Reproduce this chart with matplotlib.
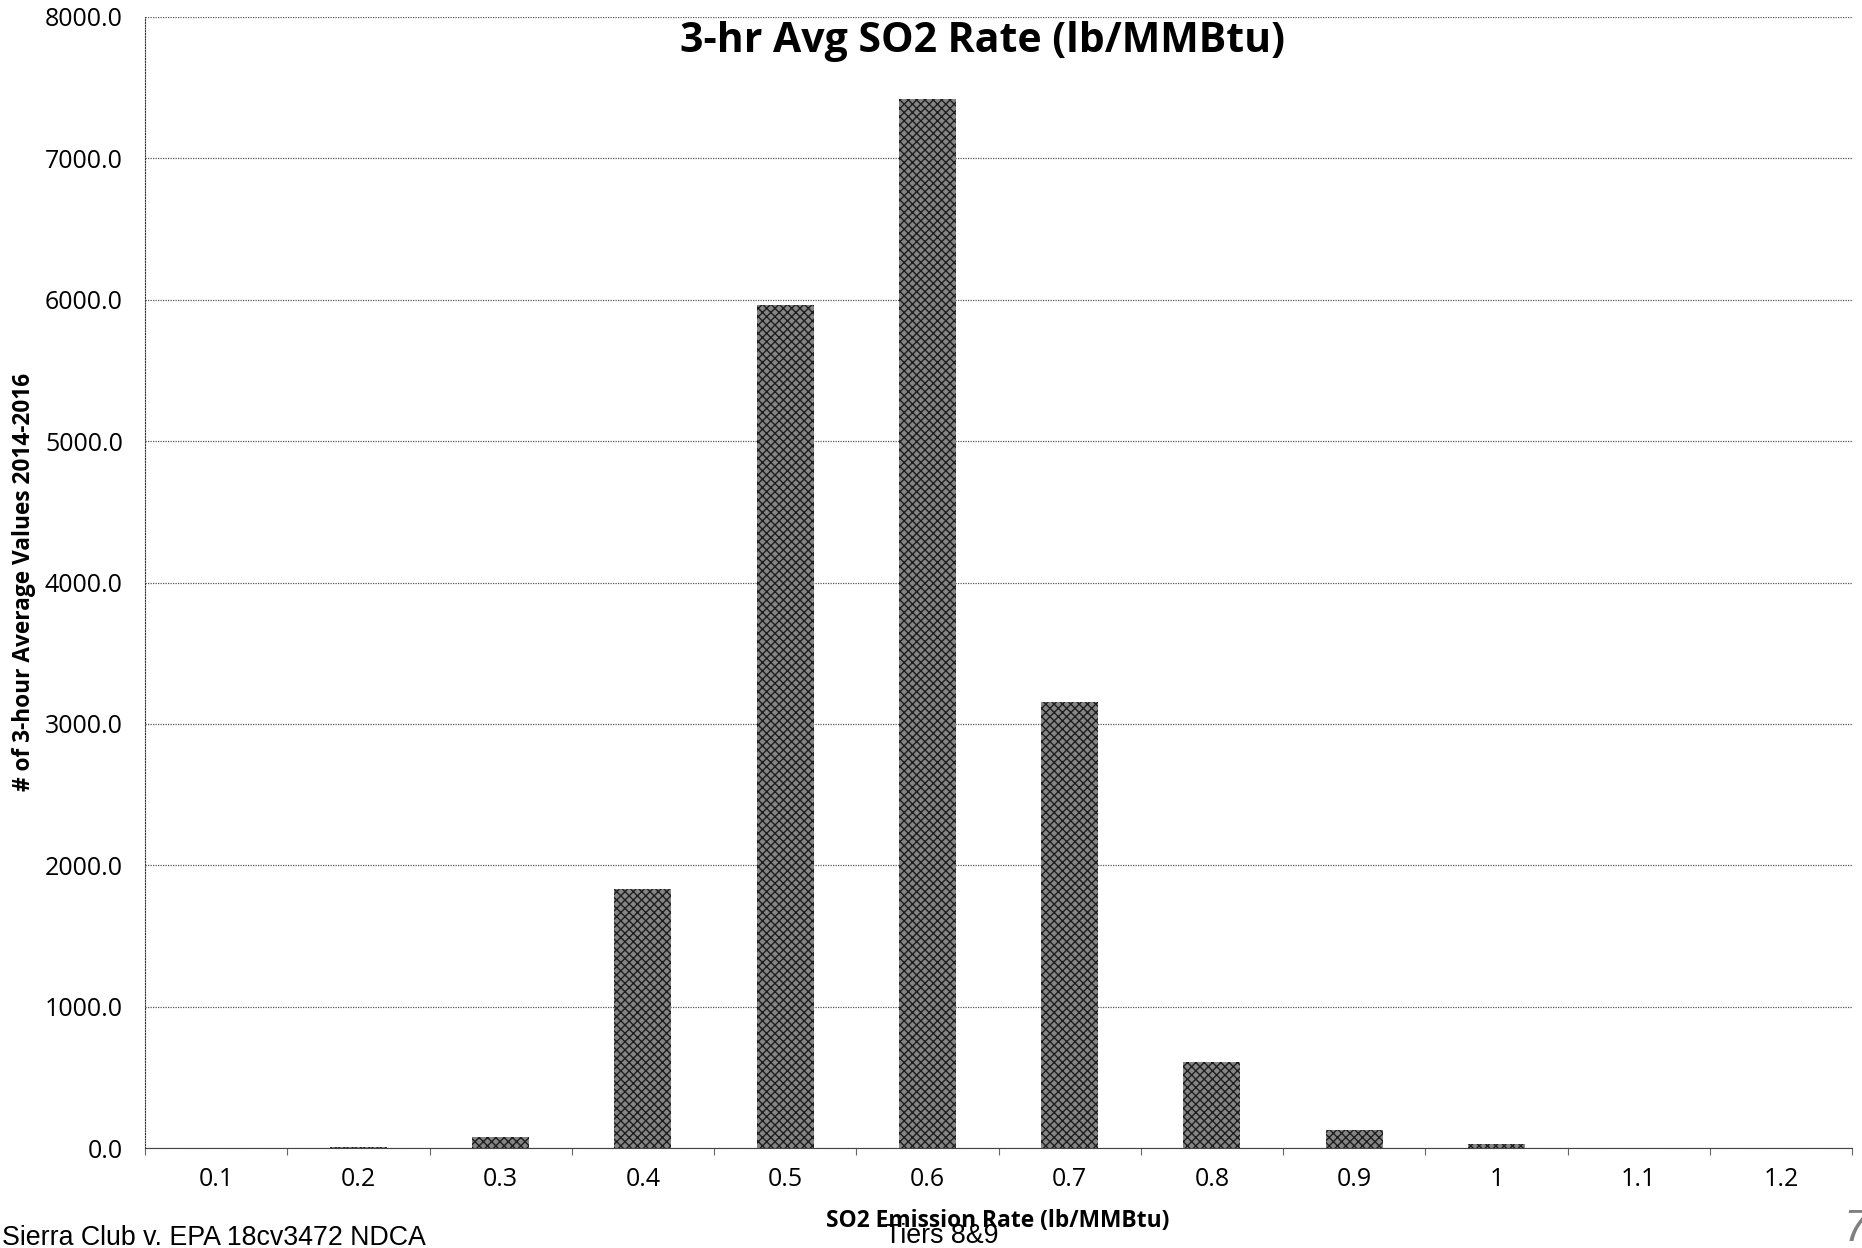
import numpy as np
import matplotlib.pyplot as plt

# ── Data ─────────────────────────────────────────────────────────
rates  = ['0.1', '0.2', '0.3', '0.4', '0.5', '0.6',
          '0.7', '0.8', '0.9', '1', '1.1', '1.2']
counts = [0, 5, 78, 1832, 5962, 7418, 3152, 605, 128, 31, 2, 0]
yticks = [0, 1000, 2000, 3000, 4000, 5000, 6000, 7000, 8000]

W, H, DPI = 1862, 1248, 100
fig = plt.figure(figsize=(W / DPI, H / DPI), dpi=DPI)
fig.patch.set_facecolor('white')

# axes box in pixels: left 145, right 1852, top 17, bottom 1148
ax = fig.add_axes([145 / W, 1 - 1148 / H, (1852 - 145) / W, (1148 - 17) / H])

x = np.arange(len(rates))
plt.rcParams['hatch.linewidth'] = 1.0
ax.bar(x, counts, width=0.4, color='#858585', edgecolor='#1e1e1e',
       hatch='xxxx', linewidth=0, zorder=3)

ax.set_xlim(-0.5, len(rates) - 0.5)
ax.set_ylim(0, 8000)
ax.set_yticks(yticks)
ax.set_yticklabels([f"{v:.1f}" for v in yticks], fontsize=18,
                   family='Open Sans')
ax.yaxis.grid(True, color='#555555', ls=(0, (1, 1)), lw=0.9, zorder=0)
ax.tick_params(axis='y', length=0, pad=16)

# category labels at centres, tick marks at boundaries
ax.set_xticks(x)
ax.set_xticklabels(rates, fontsize=18, family='Open Sans')
ax.tick_params(axis='x', which='major', length=0, pad=14)
ax.set_xticks(np.arange(-0.5, len(rates) + 0.5, 1), minor=True)
ax.tick_params(axis='x', which='minor', length=5, color='#666666',
               width=0.8, direction='out')

for s in ['top', 'right']:
    ax.spines[s].set_visible(False)
ax.spines['left'].set_linestyle((0, (1, 1.5)))
ax.spines['left'].set_color('#333333')
ax.spines['bottom'].set_linestyle((0, (1, 1)))
ax.spines['bottom'].set_color('#444444')

fig.text(983 / W, 1 - 42 / H, "3-hr Avg SO2 Rate (lb/MMBtu)",
         ha='center', va='center', fontsize=29.5, fontweight='bold',
         family='Open Sans')
fig.text(24 / W, 1 - 582 / H, "# of 3-hour Average Values 2014-2016",
         rotation=90, ha='center', va='center', fontsize=16.3,
         fontweight='bold', family='Open Sans')
fig.text(998 / W, 1 - 1221 / H, "SO2 Emission Rate (lb/MMBtu)",
         ha='center', va='center', fontsize=16.4, fontweight='bold',
         family='Open Sans')

# page footer
fig.text(2 / W, 1 - 1238 / H, "Sierra Club v. EPA 18cv3472 NDCA",
         ha='left', va='center', fontsize=19.3, family='Liberation Sans')
fig.text(942 / W, 1 - 1236 / H, "Tiers 8&9",
         ha='center', va='center', fontsize=19.3, family='Liberation Sans')
fig.text(1843 / W, 1 - 1250 / H, "7", ha='left', va='bottom',
         fontsize=32, color='#808080', style='italic',
         family='Liberation Sans')

plt.savefig('out.png', dpi=DPI)
